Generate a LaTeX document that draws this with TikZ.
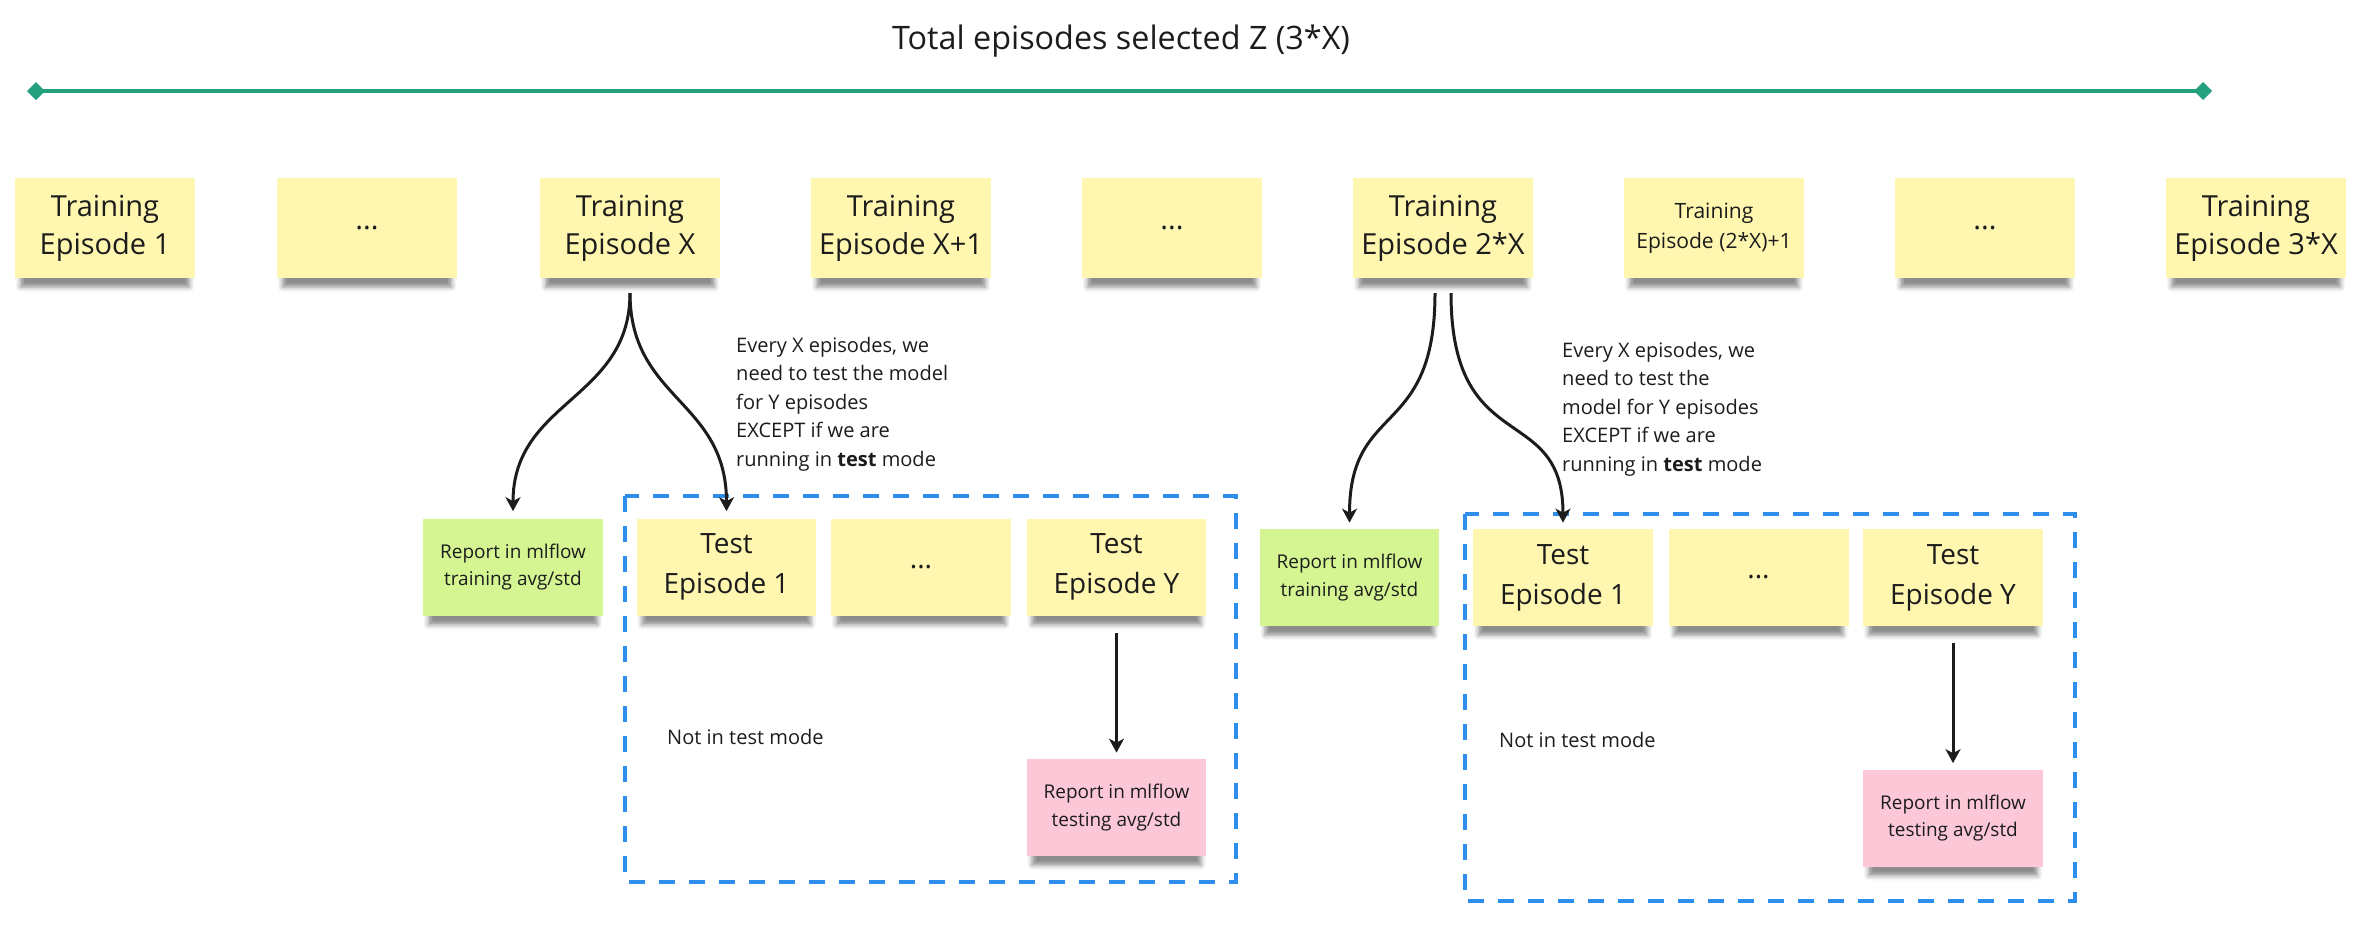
\documentclass[tikz,border=0pt]{standalone}
\usepackage{fontspec}
\setmainfont{Open Sans}
\usetikzlibrary{arrows.meta,shadows.blur}

\definecolor{stickyyellow}{HTML}{FFF6B0}
\definecolor{stickygreen}{HTML}{D4F592}
\definecolor{stickypink}{HTML}{FCC8D8}
\definecolor{spangreen}{HTML}{23A17F}
\definecolor{frameblue}{HTML}{2D8FEA}
\definecolor{ink}{HTML}{1C1C1C}

\tikzset{
  sticky/.style={fill=stickyyellow, minimum width=3.6cm, minimum height=2cm,
    inner sep=0pt, align=center, text=ink,
    font=\fontsize{16.5}{21.6}\selectfont,
    blur shadow={shadow xshift=0cm, shadow yshift=-0.26cm, shadow scale=0.94,
      shadow opacity=45, shadow blur radius=0.1cm}},
  stickysmall/.style={sticky, font=\fontsize{12}{17}\selectfont},
  testnote/.style={sticky, minimum height=1.94cm,
    font=\fontsize{15.9}{22.8}\selectfont},
  reportnote/.style={testnote, font=\fontsize{10.8}{15.4}\selectfont},
  comment/.style={anchor=west, align=left, text=ink,
    font=\fontsize{11.4}{16.2}\selectfont},
  arr/.style={ink, line width=0.06cm,
    -{Stealth[length=0.28cm, width=0.3cm, inset=0.08cm]}},
  testframe/.style={frameblue, line width=0.08cm,
    dash pattern=on 0.32cm off 0.28cm},
}

\begin{document}
\begin{tikzpicture}[x=0.02cm, y=-0.02cm]
\useasboundingbox (0,0) rectangle (2380,944);

% span of all episodes
\node[text=ink, font=\fontsize{18.4}{22}\selectfont] (title) at (1121,41)
  {Total episodes selected Z (3*X)};
\coordinate (spanL) at (27,91);
\coordinate (spanR) at (2212,91);
\draw[spangreen, line width=0.09cm,
  {Diamond[length=0.36cm,width=0.36cm]}-{Diamond[length=0.36cm,width=0.36cm]}]
  (spanL) -- (spanR);

% training episodes
\foreach \i/\x/\s/\txt in {1/105/sticky/{Training\\Episode 1},
    2/367/sticky/{...}, 3/630/sticky/{Training\\Episode X},
    4/901/sticky/{Training\\Episode X+1}, 5/1172/sticky/{...},
    6/1443/sticky/{Training\\Episode 2*X},
    7/1714/stickysmall/{Training\\Episode (2*X)+1}, 8/1985/sticky/{...},
    9/2256/sticky/{Training\\Episode 3*X}}
  \node[\s] (tr\i) at (\x,228) {\txt};

% first test block
\draw[testframe] (625,496) rectangle (1236,882);
\node[reportnote, fill=stickygreen] (rep1) at (513,567)
  {Report in mlflow\\training avg/std};
\node[testnote] (te1) at (726.5,567) {Test\\Episode 1};
\node[testnote] (tdots1) at (921,567) {...};
\node[testnote] (tey1) at (1116.5,567) {Test\\Episode Y};
\node[reportnote, fill=stickypink] (rpt1) at (1116.5,807.5)
  {Report in mlflow\\testing avg/std};
\node[comment] (nt1) at (661,737) {Not in test mode};
\node[comment] (cm1) at (730,404) {Every X episodes, we\\need to test the model\\for Y episodes\\EXCEPT if we are\\running in \textbf{test} mode};

\coordinate (fork1) at (630,293);
\draw[arr, shorten >=0.14cm] (fork1) .. controls (630,400) and (513,400) .. (rep1.north);
\draw[arr, shorten >=0.14cm] (fork1) .. controls (630,400) and (726.5,400) .. (te1.north);
\draw[arr, shorten <=0.34cm, shorten >=0.12cm] (tey1.south) -- (rpt1.north);

% second test block
\draw[testframe] (1465,514) rectangle (2075,901);
\node[reportnote, fill=stickygreen] (rep2) at (1349.5,577.5)
  {Report in mlflow\\training avg/std};
\node[testnote] (te2) at (1563,577.5) {Test\\Episode 1};
\node[testnote] (tdots2) at (1758.5,577.5) {...};
\node[testnote] (tey2) at (1953,577.5) {Test\\Episode Y};
\node[reportnote, fill=stickypink] (rpt2) at (1953,818)
  {Report in mlflow\\testing avg/std};
\node[comment] (nt2) at (1493,740) {Not in test mode};
\node[comment] (cm2) at (1556,409) {Every X episodes, we\\need to test the\\model for Y episodes\\EXCEPT if we are\\running in \textbf{test} mode};

\coordinate (fork2a) at (1435,293);
\coordinate (fork2b) at (1451,293);
\draw[arr, shorten >=0.12cm] (fork2a) .. controls (1435,440) and (1349.5,400) .. (rep2.north);
\draw[arr, shorten >=0.12cm] (fork2b) .. controls (1451,460) and (1563,400) .. (te2.north);
\draw[arr, shorten <=0.34cm, shorten >=0.12cm] (tey2.south) -- (rpt2.north);
\end{tikzpicture}
\end{document}
